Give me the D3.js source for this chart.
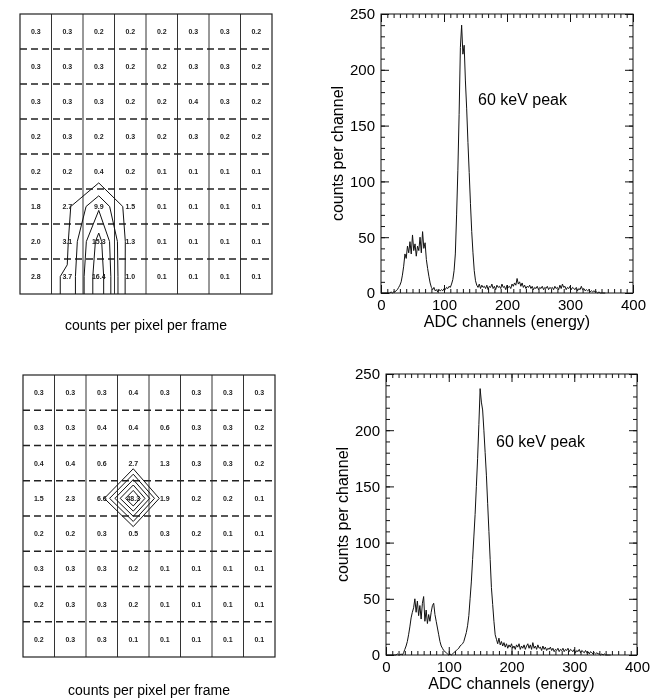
<!DOCTYPE html>
<html>
<head>
<meta charset="utf-8">
<script src="https://cdn.jsdelivr.net/npm/d3@7"></script>
<style>
  body { margin: 0; background: #fff; }
  svg { display: block; font-family: "Liberation Sans", Arial, sans-serif; filter: grayscale(1); }
  .cell { font-size: 7px; font-weight: bold; fill: #222; }
</style>
</head>
<body>
<div id="chart"></div>
<script>
// pixel grids, rows top to bottom (counts per pixel per frame)
var topGrid = [
  [0.3, 0.3, 0.2, 0.2, 0.2, 0.3, 0.3, 0.2],
  [0.3, 0.3, 0.3, 0.2, 0.2, 0.3, 0.3, 0.2],
  [0.3, 0.3, 0.3, 0.2, 0.2, 0.4, 0.3, 0.2],
  [0.2, 0.3, 0.2, 0.3, 0.2, 0.3, 0.2, 0.2],
  [0.2, 0.2, 0.4, 0.2, 0.1, 0.1, 0.1, 0.1],
  [1.8, 2.7, 9.9, 1.5, 0.1, 0.1, 0.1, 0.1],
  [2.0, 3.1, 15.3, 1.3, 0.1, 0.1, 0.1, 0.1],
  [2.8, 3.7, 16.4, 1.0, 0.1, 0.1, 0.1, 0.1]
];
var bottomGrid = [
  [0.3, 0.3, 0.3, 0.4, 0.3, 0.3, 0.3, 0.3],
  [0.3, 0.3, 0.4, 0.4, 0.6, 0.3, 0.3, 0.2],
  [0.4, 0.4, 0.6, 2.7, 1.3, 0.3, 0.3, 0.2],
  [1.5, 2.3, 6.6, 48.3, 1.9, 0.2, 0.2, 0.1],
  [0.2, 0.2, 0.3, 0.5, 0.3, 0.2, 0.1, 0.1],
  [0.3, 0.3, 0.3, 0.2, 0.1, 0.1, 0.1, 0.1],
  [0.2, 0.3, 0.3, 0.2, 0.1, 0.1, 0.1, 0.1],
  [0.2, 0.3, 0.3, 0.1, 0.1, 0.1, 0.1, 0.1]
];
var topLevels = [3.5, 7, 10.5, 14];
var bottomLevels = [10, 17, 24, 31, 38];

// spectra: counts per channel, one value every 2 ADC channels starting at 0
var channelStep = 2;
var topCounts = [
  0, 0, 0, 0, 0, 0, 0, 0, 1, 0, 1,
  1, 2, 3, 5, 7, 10, 16, 24, 35, 31, 42, 36, 46, 35, 52, 38, 44, 33, 42, 38,
  50, 36, 55, 40, 45, 30, 22, 15, 9, 5, 3, 5, 2, 3, 1, 3, 2, 3, 2, 4,
  3, 5, 4, 6, 5, 8, 12, 20, 35, 70, 110, 160, 220, 240, 214, 222, 190, 165, 135, 108,
  80, 55, 36, 20, 11, 7,
  5, 8, 4, 7, 5, 6, 4, 7, 3, 6, 5, 8, 4, 6, 3, 7, 5, 6, 4, 8,
  5, 6, 3, 7, 5, 6, 4, 8, 6, 9, 7, 13, 8, 10, 6, 9, 5, 7, 4, 6,
  5, 7, 4, 6, 3, 5, 4, 6, 3, 5, 4, 6, 3, 5, 4, 6, 3, 5, 4, 5,
  3, 6, 4, 5, 3, 7, 4, 8, 5, 6, 3, 5, 4, 6, 3, 5, 4, 3, 5, 2,
  4, 3, 6, 3, 4, 2, 3, 2, 3, 1, 2, 1, 2, 1, 1, 0, 1, 0, 0, 0, 0, 0
];
var bottomCounts = [
  0, 0, 0, 0, 0, 0, 0, 0, 0, 1, 0, 0, 1, 0,
  2, 5, 8, 12, 18, 25, 33, 38, 42, 50, 38, 48, 35, 44, 32, 46, 52, 30, 40, 28,
  36, 30, 38, 44, 46, 36, 30, 24, 18, 12, 8, 6, 4, 3, 2, 1, 0, 1, 0, 1,
  2, 3, 4, 5, 6, 8, 9, 10, 12, 16, 20, 26, 35, 50, 65, 85, 105, 125, 150, 175,
  205, 237, 225, 218, 200, 180, 160, 135, 110, 85, 60, 45, 30, 18, 14, 10, 15, 9,
  12, 8, 11, 7, 10, 6, 9, 7, 10, 6, 8, 5, 9, 7, 10, 5, 8, 6, 9, 5,
  8, 10, 6, 9, 5, 11, 6, 8, 5, 9, 6, 7, 4, 8, 5, 7, 4, 6, 5, 7,
  4, 6, 3, 5, 4, 6, 3, 5, 4, 6, 3, 5, 4, 6, 3, 5, 4, 3, 5, 2,
  4, 3, 5, 2, 4, 3, 2, 4, 2, 3, 1, 3, 2, 1, 2, 1, 2, 1, 1, 0,
  1, 0, 1, 0, 0, 0, 0, 0
];
var xTicks = [0, 100, 200, 300, 400];
var yTicks = [0, 50, 100, 150, 200, 250];
var peakLabel = "60 keV peak";

var svg = d3.select("#chart").append("svg")
  .attr("width", 650)
  .attr("height", 699);

svg.append("rect").attr("width", 650).attr("height", 699).attr("fill", "#fff");

var defs = svg.append("defs");

function drawGrid(values, levels, box, caption, id) {
  var g = svg.append("g");
  var n = values[0].length, m = values.length;
  var x = d3.scaleLinear().domain([0, n]).range([box.x, box.x + box.w]);
  var y = d3.scaleLinear().domain([0, m]).range([box.y, box.y + box.h]);

  // vertical cell lines (solid)
  g.selectAll(".vl").data(d3.range(1, n))
    .enter().append("line")
    .attr("x1", function(d) { return x(d); }).attr("x2", function(d) { return x(d); })
    .attr("y1", y(0)).attr("y2", y(m))
    .attr("stroke", "#333").attr("stroke-width", 1);

  // horizontal cell lines (dashed)
  g.selectAll(".hl").data(d3.range(1, m))
    .enter().append("line")
    .attr("x1", x(0)).attr("x2", x(n))
    .attr("y1", function(d) { return y(d); }).attr("y2", function(d) { return y(d); })
    .attr("stroke", "#222").attr("stroke-width", 1.4)
    .attr("stroke-dasharray", "7,4");

  g.append("rect")
    .attr("x", x(0)).attr("y", y(0))
    .attr("width", x(n) - x(0)).attr("height", y(m) - y(0))
    .attr("fill", "none").attr("stroke", "#222").attr("stroke-width", 1.2);

  // cell values
  var cells = [];
  values.forEach(function(row, r) {
    row.forEach(function(v, c) { cells.push({ r: r, c: c, v: v }); });
  });
  g.selectAll(".cell").data(cells)
    .enter().append("text")
    .attr("class", "cell")
    .attr("x", function(d) { return x(d.c + 0.5); })
    .attr("y", function(d) { return y(d.r + 0.5); })
    .attr("dy", "0.35em")
    .attr("text-anchor", "middle")
    .text(function(d) { return d.v.toFixed(1); });

  // contour lines: pad the grid by repeating its edges so lines run out to the border
  var padded = [];
  for (var r = -1; r <= m; r++) {
    for (var c = -1; c <= n; c++) {
      var rr = Math.max(0, Math.min(m - 1, r)), cc = Math.max(0, Math.min(n - 1, c));
      padded.push(values[rr][cc]);
    }
  }
  var contours = d3.contours().size([n + 2, m + 2]).thresholds(levels)(padded);
  var proj = d3.geoTransform({
    point: function(px, py) { this.stream.point(x(px - 1), y(py - 1)); }
  });

  defs.append("clipPath").attr("id", id)
    .append("rect")
    .attr("x", x(0)).attr("y", y(0))
    .attr("width", x(n) - x(0)).attr("height", y(m) - y(0));

  g.append("g").attr("clip-path", "url(#" + id + ")")
    .selectAll(".contour").data(contours)
    .enter().append("path")
    .attr("d", d3.geoPath(proj))
    .attr("fill", "none")
    .attr("stroke", "#111")
    .attr("stroke-width", 1);

  g.append("text")
    .attr("x", box.x + box.w / 2)
    .attr("y", box.captionY)
    .attr("text-anchor", "middle")
    .style("font-size", "14px")
    .text(caption);
}

function drawSpectrum(counts, box) {
  var g = svg.append("g").attr("transform", "translate(" + box.x + "," + box.y + ")");
  var x = d3.scaleLinear().domain([0, 400]).range([0, box.w]);
  var y = d3.scaleLinear().domain([0, 250]).range([box.h, 0]);

  function styleAxis(sel) {
    sel.select(".domain").remove();
    sel.selectAll("line").attr("stroke", "#111");
    sel.selectAll("text").style("font-size", "15px").attr("fill", "#000");
  }

  // minor ticks on all sides
  var xMinor = d3.range(0, 401, 10), yMinor = d3.range(0, 251, 10);
  g.append("g").attr("transform", "translate(0," + box.h + ")")
    .call(d3.axisBottom(x).tickValues(xMinor).tickSize(-4).tickFormat("")).call(styleAxis);
  g.append("g")
    .call(d3.axisTop(x).tickValues(xMinor).tickSize(-4).tickFormat("")).call(styleAxis);
  g.append("g")
    .call(d3.axisLeft(y).tickValues(yMinor).tickSize(-4).tickFormat("")).call(styleAxis);
  g.append("g").attr("transform", "translate(" + box.w + ",0)")
    .call(d3.axisRight(y).tickValues(yMinor).tickSize(-4).tickFormat("")).call(styleAxis);

  // major ticks
  g.append("g").attr("transform", "translate(0," + box.h + ")")
    .call(d3.axisBottom(x).tickValues(xTicks).tickSize(-8).tickPadding(6)).call(styleAxis);
  g.append("g")
    .call(d3.axisTop(x).tickValues(xTicks).tickSize(-8).tickFormat("")).call(styleAxis);
  g.append("g")
    .call(d3.axisLeft(y).tickValues(yTicks).tickSize(-8).tickPadding(6)).call(styleAxis);
  g.append("g").attr("transform", "translate(" + box.w + ",0)")
    .call(d3.axisRight(y).tickValues(yTicks).tickSize(-8).tickFormat("")).call(styleAxis);

  g.append("rect")
    .attr("width", box.w).attr("height", box.h)
    .attr("fill", "none").attr("stroke", "#111").attr("stroke-width", 1);

  var line = d3.line()
    .x(function(d, i) { return x(i * channelStep); })
    .y(function(d) { return y(d); });

  g.append("path")
    .datum(counts)
    .attr("d", line)
    .attr("fill", "none")
    .attr("stroke", "#111")
    .attr("stroke-width", 1);

  g.append("text")
    .attr("x", box.labelX).attr("y", box.labelY)
    .style("font-size", "16px")
    .text(peakLabel);

  g.append("text")
    .attr("x", box.w / 2).attr("y", box.h + 34)
    .attr("text-anchor", "middle")
    .style("font-size", "16px")
    .text("ADC channels (energy)");

  g.append("text")
    .attr("transform", "rotate(-90)")
    .attr("x", -box.h / 2).attr("y", -38)
    .attr("text-anchor", "middle")
    .style("font-size", "16px")
    .text("counts per channel");
}

drawGrid(topGrid, topLevels, { x: 20, y: 14, w: 252, h: 280, captionY: 330 }, "counts per pixel per frame", "clipTop");
drawGrid(bottomGrid, bottomLevels, { x: 23, y: 375, w: 252, h: 282, captionY: 695 }, "counts per pixel per frame", "clipBottom");

drawSpectrum(topCounts, { x: 381, y: 14, w: 252, h: 279, labelX: 97, labelY: 91 });
drawSpectrum(bottomCounts, { x: 386, y: 374, w: 251, h: 281, labelX: 110, labelY: 73 });
</script>
</body>
</html>
